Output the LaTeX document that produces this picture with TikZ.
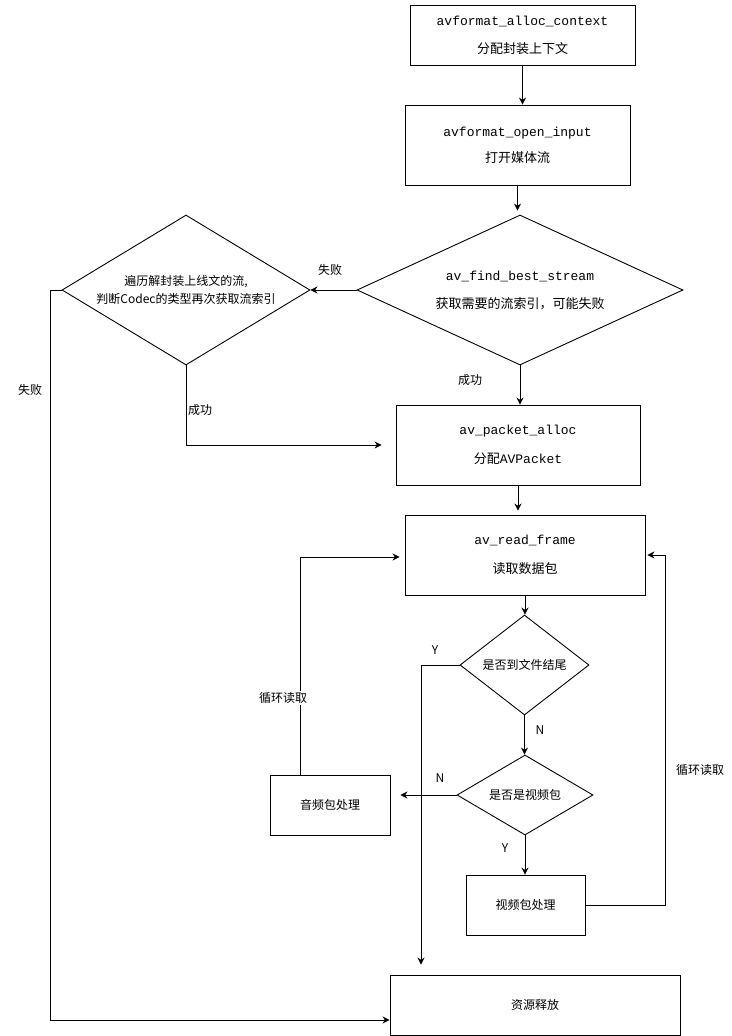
\documentclass[tikz,border=0pt]{standalone}
\usepackage{fontspec}
\setmainfont{Noto Sans CJK SC}
\newfontfamily\mono{Liberation Mono}
\usetikzlibrary{shapes.geometric,arrows.meta}
\begin{document}
\begin{tikzpicture}[x=1pt,y=-1pt,
  box/.style={draw,line width=0.9pt,inner sep=0pt,align=center},
  dia/.style={draw,diamond,line width=0.9pt,inner sep=0pt},
  big/.style={font=\fontsize{13}{16}\selectfont},
  sm/.style={font=\fontsize{12}{15}\selectfont},
  arr/.style={-{Stealth[length=7pt,width=7pt]},line width=0.9pt},
  ln/.style={line width=0.9pt},
  lbl/.style={font=\fontsize{12}{15}\selectfont,inner sep=0pt}]
\useasboundingbox (0,0) rectangle (731,1036);

% boxes
\node[box,big,minimum width=225pt,minimum height=60pt] (b1) at (522.5,35)
  {{\mono avformat\_alloc\_context}\\[12pt]分配封装上下文};
\node[box,big,minimum width=225pt,minimum height=80pt] (b2) at (517.5,145)
  {{\mono avformat\_open\_input}\\[10pt]打开媒体流};
\node[dia,minimum width=326pt,minimum height=150pt] (d1) at (520,290) {};
\node[big,align=center] (t1) at (d1.center)
  {{\mono av\_find\_best\_stream}\\[12pt]获取需要的流索引，可能失败};
\node[dia,minimum width=248pt,minimum height=150pt] (d2) at (186,290) {};
\node[sm,align=center,font=\fontsize{12}{18}\selectfont] (t2) at (d2.center)
  {遍历解封装上线文的流,\\判断Codec的类型再次获取流索引};
\node[box,big,minimum width=244pt,minimum height=80pt] (b3) at (518,445)
  {{\mono av\_packet\_alloc}\\[13pt]分配{\mono AVPacket}};
\node[box,big,minimum width=240pt,minimum height=80pt] (b4) at (525,555)
  {{\mono av\_read\_frame}\\[13pt]读取数据包};
\node[dia,minimum width=129pt,minimum height=100pt] (d3) at (524.5,665) {};
\node[sm] (t3) at (d3.center) {是否到文件结尾};
\node[dia,minimum width=136pt,minimum height=80pt] (d4) at (525,795) {};
\node[sm] (t4) at (d4.center) {是否是视频包};
\node[box,sm,minimum width=120pt,minimum height=60pt] (b5) at (330,805) {音频包处理};
\node[box,sm,minimum width=119pt,minimum height=60pt] (b6) at (525.5,905) {视频包处理};
\node[box,sm,minimum width=290pt,minimum height=60pt] (b7) at (535,1005) {资源释放};

% helper coordinates
\coordinate (fl) at (50,1020);
\coordinate (yx) at (421,665);
\coordinate (lp) at (300,557);
\coordinate (rp) at (665,555);

% connectors
\draw[arr] (b1.south) -- (b1.south |- b2.north);
\draw[arr,shorten >=4pt] (b2.south) -- (b2.south |- d1.north);
\draw[arr] (d1.west) -- (d2.east);
\draw[arr] (d2.west) -| (fl) -- (fl -| b7.west);
\draw[arr,shorten >=14pt] (d2.south) |- (b3.west);
\draw[arr] (d1.south) -- (d1.south |- b3.north);
\draw[arr,shorten >=4pt] (b3.south) -- (b3.south |- b4.north);
\draw[arr] (b4.south) -- (b4.south |- d3.north);
\draw[arr,shorten >=10pt] (d3.west) -- (yx) -- (yx |- b7.north);
\draw[arr] (d3.south) -- (d3.south |- d4.north);
\draw[arr,shorten >=10pt] (d4.west) -- (d4.west -| b5.east);
\draw[arr,shorten >=5pt] (b5.north -| lp) -- (lp) -- (lp -| b4.west);
\draw[arr] (d4.south) -- (d4.south |- b6.north);
\draw[arr,shorten >=2pt] (b6.east) -| (rp) -- (b4.east);

% labels
\node[lbl] (l1) at (330,270) {失败};
\node[lbl] (l2) at (30,390) {失败};
\node[lbl] (l3) at (200,410) {成功};
\node[lbl] (l4) at (470,380) {成功};
\node[lbl] (l5) at (435,650) {Y};
\node[lbl] (l6) at (540,730) {N};
\node[lbl] (l7) at (440,778) {N};
\node[lbl] (l8) at (505,848) {Y};
\node[lbl,fill=white,inner sep=1pt] (l9) at (283,698) {循环读取};
\node[lbl] (l10) at (700,770) {循环读取};
\end{tikzpicture}
\end{document}
